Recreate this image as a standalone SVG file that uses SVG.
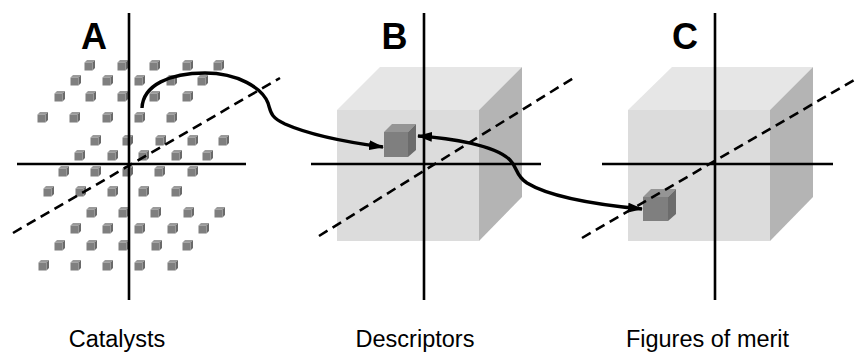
<svg xmlns="http://www.w3.org/2000/svg" xmlns:xlink="http://www.w3.org/1999/xlink" width="857" height="353" viewBox="0 0 857 353">
<style>
.axis{stroke:#000;stroke-width:2.6;fill:none}
.dash{stroke:#000;stroke-width:2.6;fill:none;stroke-dasharray:10 6}
.conn{stroke:#000;stroke-width:3.4;fill:none}
.big{font-family:"Liberation Sans",Arial,sans-serif;font-weight:bold;font-size:36px;text-anchor:middle;fill:#000}
.lbl{font-family:"Liberation Sans",Arial,sans-serif;font-size:23.5px;text-anchor:middle;fill:#000}
.ff{fill:#dcdcdc}.ft{fill:#e6e6e6}.fs{fill:#b4b4b4}
.sf{fill:#7f7f7f}.st{fill:#9a9a9a}.ss{fill:#6a6a6a}
</style>
<defs>
<g id="c">
<polygon class="st" points="-4.5,-3.5 -2,-6 6,-6 3.5,-3.5"/>
<polygon class="ss" points="3.5,-3.5 6,-6 6,2 3.5,4.5"/>
<rect class="sf" x="-4.5" y="-3.5" width="8" height="8"/>
</g>
<marker id="ah" viewBox="0 0 15 10" refX="14" refY="5" markerWidth="15" markerHeight="10" markerUnits="userSpaceOnUse" orient="auto-start-reverse">
<path d="M0,0 L15,5 L0,10 Z" fill="#000"/>
</marker>
</defs>

<g id="panelA">
<g id="catalysts">
<use href="#c" x="89" y="66"/><use href="#c" x="122" y="66"/><use href="#c" x="154" y="66"/><use href="#c" x="187" y="66"/><use href="#c" x="218" y="66"/>
<use href="#c" x="75" y="81"/><use href="#c" x="107" y="81"/><use href="#c" x="139" y="81"/><use href="#c" x="171" y="81"/><use href="#c" x="202" y="81"/>
<use href="#c" x="59" y="97"/><use href="#c" x="90" y="97"/><use href="#c" x="122" y="97"/><use href="#c" x="154" y="97"/><use href="#c" x="187" y="97"/>
<use href="#c" x="42" y="118"/><use href="#c" x="74" y="118"/><use href="#c" x="107" y="118"/><use href="#c" x="139" y="118"/><use href="#c" x="171" y="118"/>
<use href="#c" x="95" y="141"/><use href="#c" x="127" y="141"/><use href="#c" x="160" y="141"/><use href="#c" x="192" y="141"/><use href="#c" x="223" y="141"/>
<use href="#c" x="79" y="156"/><use href="#c" x="112" y="156"/><use href="#c" x="143" y="156"/><use href="#c" x="176" y="156"/><use href="#c" x="207" y="156"/>
<use href="#c" x="63" y="172"/><use href="#c" x="95" y="172"/><use href="#c" x="127" y="172"/><use href="#c" x="159" y="172"/><use href="#c" x="192" y="172"/>
<use href="#c" x="48" y="192"/><use href="#c" x="80" y="192"/><use href="#c" x="112" y="192"/><use href="#c" x="143" y="192"/><use href="#c" x="176" y="192"/>
<use href="#c" x="91" y="213"/><use href="#c" x="123" y="213"/><use href="#c" x="155" y="213"/><use href="#c" x="188" y="213"/><use href="#c" x="219" y="213"/>
<use href="#c" x="75" y="229"/><use href="#c" x="107" y="229"/><use href="#c" x="139" y="229"/><use href="#c" x="172" y="229"/><use href="#c" x="203" y="229"/>
<use href="#c" x="59" y="246"/><use href="#c" x="91" y="246"/><use href="#c" x="123" y="246"/><use href="#c" x="156" y="246"/><use href="#c" x="187" y="246"/>
<use href="#c" x="43" y="266"/><use href="#c" x="75" y="266"/><use href="#c" x="107" y="266"/><use href="#c" x="139" y="266"/><use href="#c" x="172" y="266"/>
</g>
<line class="axis" x1="129" y1="13" x2="129" y2="300"/>
<line class="axis" x1="17" y1="164" x2="246" y2="164"/>
<line class="dash" x1="13" y1="233" x2="280" y2="78"/>
<text class="big" x="94" y="49">A</text>
<text class="lbl" x="117" y="347">Catalysts</text>
</g>

<g id="panelB">
<polygon class="ft" points="337,110 380,67 522,67 479,110"/>
<polygon class="fs" points="479,110 522,67 522,197 479,241"/>
<rect class="ff" x="337" y="110" width="142" height="131"/>
<line class="axis" x1="424" y1="13" x2="424" y2="300"/>
<line class="axis" x1="311" y1="164" x2="541" y2="164"/>
<line class="dash" x1="319" y1="236" x2="575" y2="77"/>
<g id="descriptor">
<polygon fill="#959595" points="384,132 392,124 416,124 408,132"/>
<polygon fill="#6c6c6c" points="408,132 416,124 416,150 408,157"/>
<rect fill="#7f7f7f" x="384" y="132" width="24" height="25"/>
</g>
<text class="big" x="394.5" y="49">B</text>
<text class="lbl" x="415" y="347">Descriptors</text>
</g>

<g id="panelC">
<polygon class="ft" points="628,110 672,67 813,67 770,110"/>
<polygon class="fs" points="770,110 813,67 813,197 770,241"/>
<rect class="ff" x="628" y="110" width="142" height="131"/>
<line class="axis" x1="715" y1="13" x2="715" y2="300"/>
<line class="axis" x1="602" y1="164" x2="833" y2="164"/>
<g id="merit">
<polygon fill="#959595" points="643,197 651,189 676,189 668,197"/>
<polygon fill="#6c6c6c" points="668,197 676,189 676,214 668,221"/>
<rect fill="#7f7f7f" x="643" y="197" width="25" height="24"/>
</g>
<line class="dash" x1="582" y1="238" x2="856" y2="79"/>
<text class="big" x="685" y="49">C</text>
<text class="lbl" x="707.5" y="347">Figures of merit</text>
</g>

<g id="connectors">
<path class="conn" marker-end="url(#ah)" d="M142,108 C143,85 170,73 205,73 C238,73 262,88 268,103 C271,112 270,117 285,124 C310,135 345,142 383,147"/>
<path class="conn" marker-start="url(#ah)" marker-end="url(#ah)" d="M418,136 C450,138 495,145 510,160 C518,168 515,175 527,183 C550,197 600,205 642,209"/>
</g>
</svg>
